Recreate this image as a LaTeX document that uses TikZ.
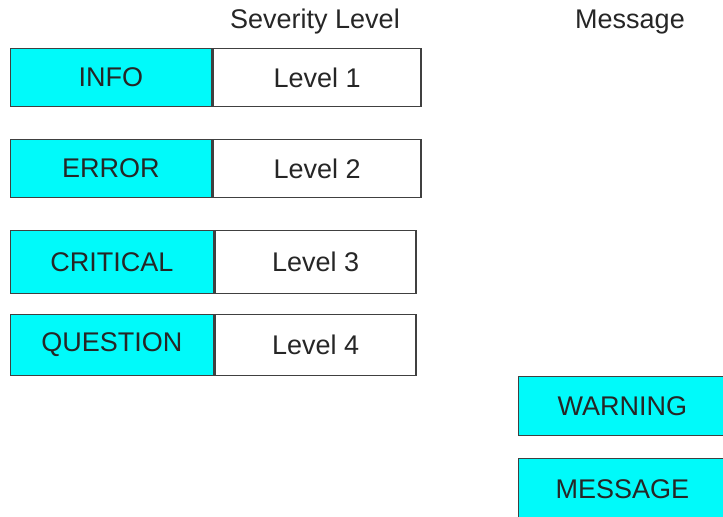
\documentclass[tikz,border=0pt]{standalone}
\usepackage{fontspec}
\setmainfont{Liberation Sans}
\usetikzlibrary{positioning}

\definecolor{aqua}{RGB}{0,250,250}
\tikzset{
	kind/.style={draw=black!75, fill=aqua, line width=0.9pt, inner sep=0pt, text=black!85, font=\fontsize{13.5}{16}\selectfont},
	lvl/.style={kind, fill=white},
	head/.style={inner sep=0pt, text=black!85, font=\fontsize{13.5}{16}\selectfont}
}

\begin{document}
\begin{tikzpicture}[x=0.5pt, y=-0.5pt]
		\useasboundingbox (0,0) rectangle (723,516);
		\clip (0,0) rectangle (723,516);
		
		\node[head] (sev) at (315,22) {Severity Level};
		\node[head] (msg) at (630,22) {Message};
		
		\node[kind, anchor=north west, minimum width=100.5pt, minimum height=29pt] (info) at (9.5,47.5) {INFO};
		\node[lvl, right=0pt of info, minimum width=104pt, minimum height=29pt] (lvla) {Level 1};
		
		\node[kind, anchor=north west, minimum width=100.5pt, minimum height=29pt] (error) at (9.5,138.5) {ERROR};
		\node[lvl, right=0pt of error, minimum width=104pt, minimum height=29pt] (lvlb) {Level 2};
		
		\node[kind, anchor=north west, minimum width=101.5pt, minimum height=31.5pt] (critical) at (9.5,229.5) {CRITICAL};
		\node[lvl, right=0pt of critical, minimum width=100.5pt, minimum height=31.5pt] (lvlc) {Level 3};
		
		\node[kind, anchor=north west, minimum width=101.5pt, minimum height=30.5pt] (question) at (9.5,313.5) {QUESTION};
		\node[lvl, right=0pt of question, minimum width=100.5pt, minimum height=30.5pt] (lvld) {Level 4};
		
		\node[kind, anchor=north west, minimum width=104pt, minimum height=29.5pt] (warning) at (517.5,375.5) {WARNING};
		\node[kind, anchor=north west, minimum width=104pt, minimum height=31pt] (message) at (517.5,457.5) {MESSAGE};
\end{tikzpicture}
\end{document}
